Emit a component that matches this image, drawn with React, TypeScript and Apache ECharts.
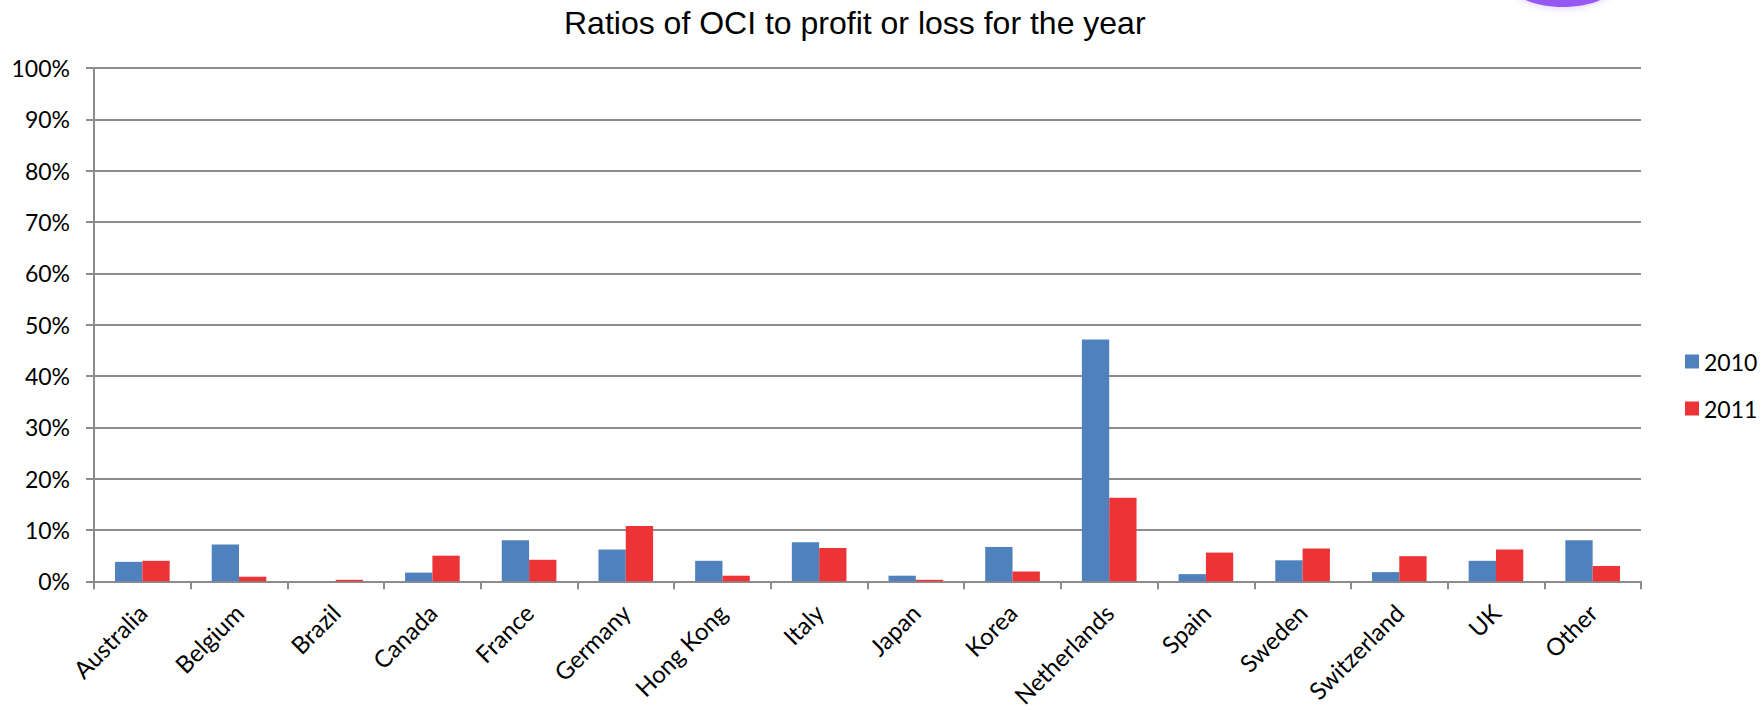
import React, { useEffect, useRef } from "react";
import * as echarts from "echarts";

const categories = [
  "Australia", "Belgium", "Brazil", "Canada", "France", "Germany", "Hong Kong", "Italy",
  "Japan", "Korea", "Netherlands", "Spain", "Sweden", "Switzerland", "UK", "Other",
];
const values2010 = [3.8, 7.2, 0, 1.7, 8.0, 6.2, 4.0, 7.6, 1.1, 6.7, 47.1, 1.4, 4.1, 1.8, 4.0, 8.0];
const values2011 = [4.0, 0.9, 0.3, 5.0, 4.2, 10.8, 1.1, 6.5, 0.3, 1.9, 16.3, 5.6, 6.4, 4.9, 6.2, 3.0];
const seriesNames = ["2010", "2011"];
const titleText = "Ratios of OCI to profit or loss for the year";

const LABEL_FONT = "Lato, 'Open Sans', sans-serif";
const GRID_COLOR = "#8c8c8c";

export default function App() {
  const ref = useRef<HTMLDivElement>(null);
  useEffect(() => {
    if (!ref.current) return;
    const chart = echarts.init(ref.current, null, { renderer: "svg" });
    chart.setOption({
      animation: false,
      backgroundColor: "#ffffff",
      title: {
        text: titleText,
        left: 559,
        top: 2,
        textStyle: {
          fontFamily: "'Liberation Sans', Arial, sans-serif",
          fontSize: 32,
          fontWeight: "normal",
          color: "#000000",
        },
      },
      legend: {
        orient: "vertical",
        left: 1680,
        top: 345,
        itemWidth: 14,
        itemHeight: 14,
        itemGap: 24,
        icon: "rect",
        textStyle: { fontFamily: LABEL_FONT, fontSize: 23, color: "#000000" },
        data: seriesNames,
      },
      grid: { left: 94, right: 121, top: 68, bottom: 127, containLabel: false },
      xAxis: {
        type: "category",
        data: categories,
        boundaryGap: true,
        axisLine: { show: true, lineStyle: { color: GRID_COLOR, width: 2 } },
        axisTick: { show: true, length: 8, lineStyle: { color: GRID_COLOR, width: 2 } },
        axisLabel: {
          interval: 0,
          rotate: 45,
          margin: 27,
          fontFamily: LABEL_FONT,
          fontSize: 24,
          color: "#000000",
        },
      },
      yAxis: {
        type: "value",
        min: 0,
        max: 100,
        interval: 10,
        axisLine: { show: true, lineStyle: { color: GRID_COLOR, width: 2 } },
        axisTick: { show: true, length: 8, lineStyle: { color: GRID_COLOR, width: 2 } },
        splitLine: { show: true, lineStyle: { color: GRID_COLOR, width: 2 } },
        axisLabel: {
          margin: 24,
          formatter: (v: number) => `${v}%`,
          fontFamily: LABEL_FONT,
          fontSize: 23,
          color: "#000000",
        },
      },
      series: [
        {
          name: seriesNames[0],
          type: "bar",
          data: values2010,
          barGap: "0%",
          barCategoryGap: "43.5%",
          itemStyle: { color: "#4f81bd" },
        },
        {
          name: seriesNames[1],
          type: "bar",
          data: values2011,
          barGap: "0%",
          barCategoryGap: "43.5%",
          itemStyle: { color: "#ec3436" },
        },
      ],
      graphic: [
        {
          type: "ellipse",
          shape: { cx: 1563, cy: -14, rx: 50, ry: 21 },
          style: { fill: "#9658f2", shadowBlur: 8, shadowColor: "rgba(150,88,242,0.35)" },
          silent: true,
        },
      ],
    });
    return () => chart.dispose();
  }, []);
  return (
    <div
      ref={ref}
      style={{ position: "absolute", left: 0, top: 0, width: 1762, height: 710 }}
    />
  );
}
